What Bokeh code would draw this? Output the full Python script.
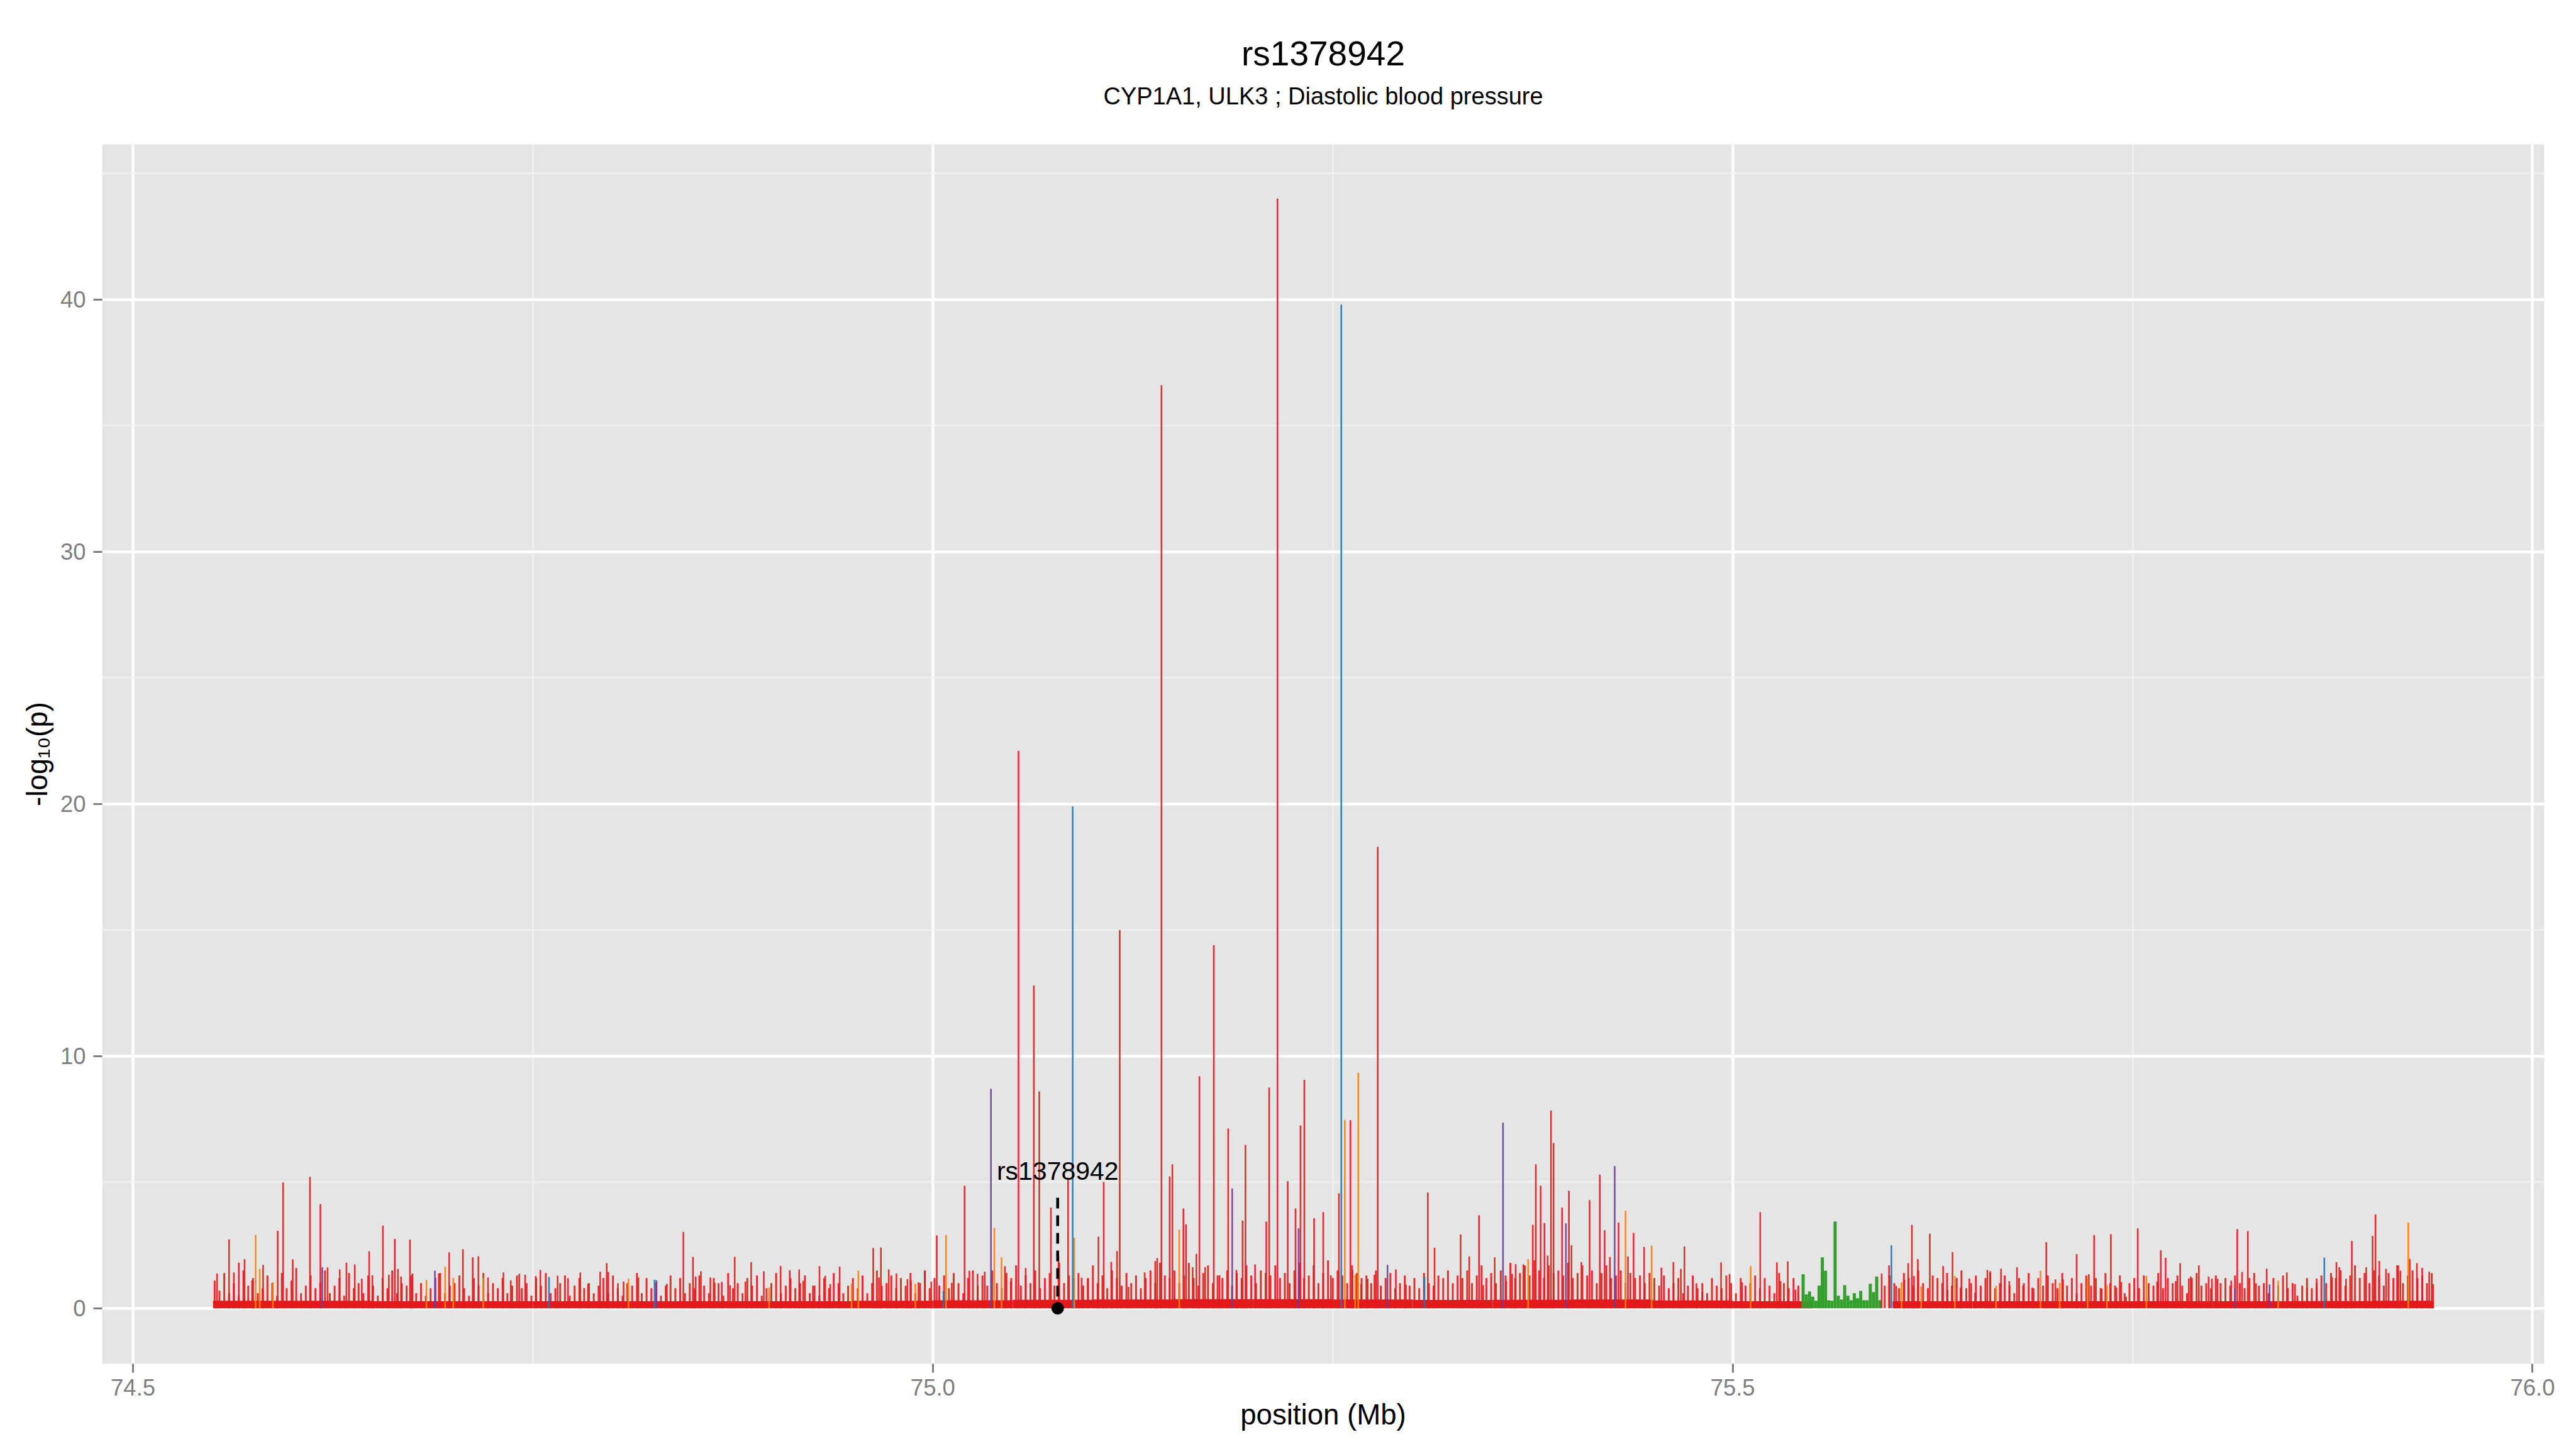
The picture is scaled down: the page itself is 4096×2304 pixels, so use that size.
from bokeh.plotting import figure
from bokeh.models import Range1d, Title, FixedTicker, Label
from bokeh.embed import file_html
from bokeh.resources import INLINE

# ---------------- text ----------------
TITLE = "rs1378942"
SUBTITLE = "CYP1A1, ULK3 ; Diastolic blood pressure"
X_LABEL = "position (Mb)"
Y_LABEL = "-log\u2081\u2080(p)"

x_ticks = [74.5, 75.0, 75.5, 76.0]
x_tick_labels = ["74.5", "75.0", "75.5", "76.0"]
x_minor = [74.75, 75.25, 75.75]
y_ticks = [0, 10, 20, 30, 40]
y_tick_labels = ["0", "10", "20", "30", "40"]
y_minor = [5, 15, 25, 35, 45]

# ---------------- lead SNP ----------------
lead_snp = "rs1378942"
lead_pos = 75.0780
lead_line_top = 4.38
lead_label_y = 5.45

# ---------------- data ----------------
data_start = 74.550
data_end = 75.938

# dense background association signal (-log10 p), one value every 0.003 Mb from 74.551
grass_start = 74.551
grass_step = 0.003
grass_val = [
    1.1, 0.7, 1.4, 0.6, 1.0, 0.5, 1.5, 0.9, 1.2, 0.6, 0.8, 1.3, 1.0, 0.5, 1.4, 0.8, 1.1, 1.6, 0.6, 0.9,
    1.3, 0.8, 1.0, 1.5, 0.6, 0.9, 1.2, 0.5, 1.4, 0.8, 1.0, 0.6, 1.3, 0.9, 0.5, 1.2, 0.8, 1.5, 0.6, 1.0,
    0.9, 1.3, 0.6, 1.0, 0.5, 0.8, 1.2, 1.4, 0.6, 0.9, 1.0, 1.3, 0.8, 0.5, 1.2, 0.9, 1.4, 0.6, 1.0, 0.8,
    1.2, 0.6, 0.9, 1.3, 0.8, 1.0, 0.5, 1.2, 0.9, 1.4, 0.6, 0.8, 1.0, 1.3, 0.5, 0.9, 1.2, 0.8, 1.0, 0.6,
    0.9, 1.2, 0.6, 1.3, 0.8, 0.5, 1.0, 0.9, 1.4, 0.6, 1.2, 0.8, 1.0, 0.5, 0.9, 1.3, 0.8, 1.2, 0.6, 1.0,
    0.8, 1.3, 0.9, 0.6, 1.2, 1.0, 0.5, 1.4, 0.8, 1.0, 0.6, 1.2, 0.9, 1.3, 0.5, 0.8, 1.0, 1.4, 0.6, 0.9,
    1.2, 0.8, 1.0, 1.3, 0.6, 0.9, 0.5, 1.2, 0.8, 1.4, 1.0, 0.6, 0.9, 1.2, 0.8, 1.3, 0.6, 1.0, 1.5, 0.9,
    1.0, 1.3, 0.8, 1.2, 0.9, 1.4, 0.6, 1.0, 1.5, 0.8, 1.2, 0.9, 1.3, 0.8, 1.4, 1.0, 0.6, 1.2, 1.5, 0.9,
    1.3, 0.9, 1.5, 1.0, 0.8, 1.4, 1.2, 1.7, 0.9, 1.3, 1.0, 1.5, 0.8, 1.2, 1.4, 0.9, 1.8, 1.0, 1.3, 1.2,
    1.4, 0.9, 1.2, 1.7, 1.0, 1.3, 0.8, 1.5, 1.2, 0.9, 1.4, 1.0, 1.3, 0.8, 1.2, 1.5, 1.0, 1.8, 1.3, 1.2,
    1.5, 1.0, 1.3, 1.8, 1.2, 0.9, 1.4, 1.7, 1.0, 1.3, 1.2, 1.5, 0.9, 1.4, 1.2, 1.7, 1.3, 1.0, 1.5, 1.4,
    1.3, 1.7, 1.2, 1.4, 1.0, 1.5, 1.8, 1.2, 1.3, 1.7, 1.0, 1.4, 1.9, 1.2, 1.5, 1.3, 1.0, 1.7, 1.4, 1.2,
    1.3, 1.0, 1.5, 0.9, 1.2, 1.4, 0.8, 1.0, 1.3, 0.9, 1.2, 0.8, 1.4, 1.0, 0.9, 1.3, 1.2, 1.5, 1.0, 1.3,
    1.2, 1.5, 1.0, 1.3, 1.7, 1.2, 1.4, 1.0, 1.5, 1.3, 1.8, 1.2, 1.4, 1.7, 1.3, 1.9, 1.5, 1.2, 1.7, 1.4,
    1.5, 1.3, 1.8, 1.2, 1.4, 1.7, 1.3, 1.5, 1.0, 1.4, 1.7, 1.2, 1.3, 1.5, 1.0, 1.4, 1.2, 1.3, 1.0, 1.4,
    1.2, 0.9, 1.3, 0.8, 1.0, 1.2, 0.6, 0.9, 1.3, 0.8, 1.0, 0.6, 1.2, 0.9, 0.8, 1.3, 1.0, 0.6, 1.2, 0.9,
    1.0, 1.3, 0.8, 1.2, 0.9, 0.6, 1.4, 1.0, 0.8, 1.2, 0.9, 0.0, 0.0, 0.0, 0.0, 0.0, 0.0, 0.0, 0.0, 0.0,
    0.0, 0.0, 0.0, 0.0, 0.0, 0.0, 0.0, 0.0, 0.9, 1.3, 1.0, 0.8, 1.4, 1.2, 0.9, 1.5, 1.0, 0.8, 1.3, 1.2,
    1.0, 1.4, 0.9, 1.2, 1.5, 0.8, 1.0, 1.3, 0.9, 1.2, 1.4, 0.8, 1.0, 1.3, 0.9, 0.6, 1.2, 1.0, 1.4, 0.8,
    1.2, 0.9, 1.3, 1.0, 0.8, 1.4, 0.9, 1.2, 0.6, 1.0, 1.3, 0.9, 1.2, 0.8, 1.4, 1.0, 0.9, 1.3, 0.6, 1.0,
    1.2, 0.8, 1.3, 1.0, 0.9, 1.4, 0.8, 1.2, 1.0, 1.3, 0.9, 0.6, 1.2, 1.4, 0.9, 1.0, 0.8, 1.3, 1.0, 1.2,
    0.9, 1.3, 1.0, 0.8, 1.2, 1.4, 0.9, 1.0, 0.6, 1.2, 0.9, 1.3, 0.8, 1.0, 0.5, 0.9, 1.2, 0.8, 1.0, 1.3,
    1.0, 1.4, 1.2, 1.5, 0.9, 1.3, 1.7, 1.2, 1.4, 1.0, 1.5, 1.3, 0.9, 1.4, 1.2, 1.7, 1.0, 1.3, 1.5, 1.2,
    1.3, 1.0, 1.4,
]

# solid low-level band, one value per 0.05 Mb bin from 74.55
floor_start = 74.55
floor_step = 0.05
floor_val = [0.30, 0.30, 0.28, 0.28, 0.28, 0.28, 0.28, 0.28, 0.30, 0.32,
             0.34, 0.35, 0.36, 0.36, 0.35, 0.33, 0.34, 0.35, 0.31, 0.28,
             0.00, 0.28, 0.28, 0.28, 0.28, 0.28, 0.29, 0.30]

# green block (different LD group), one value every 0.002 Mb from 75.544
green_start = 75.544
green_step = 0.002
green_val = [1.35, 0.55, 0.67, 0.46, 0.30, 0.90, 2.02, 1.49, 0.32, 0.30,
             3.44, 0.50, 0.35, 0.92, 0.50, 0.32, 0.60, 0.40, 0.69, 0.32,
             0.32, 0.97, 0.64, 1.26, 0.32]

# individual SNP peaks
spike_pos = [
    74.5525, 74.5600, 74.5630, 74.5661, 74.5697, 74.5744, 74.5766, 74.5792, 74.5813, 74.5874,
    74.5904, 74.5938, 74.5998, 74.6106, 74.6171, 74.6183, 74.6216, 74.6292, 74.6334, 74.6386,
    74.6430, 74.6476, 74.6496, 74.6562, 74.6599, 74.6636, 74.6656, 74.6675, 74.6731, 74.6747,
    74.6834, 74.6887, 74.6911, 74.6951, 74.6976, 74.7002, 74.7062, 74.7123, 74.7159, 74.7189,
    74.7219, 74.7315, 74.7361, 74.7414, 74.7451, 74.7517, 74.7546, 74.7600, 74.7654, 74.7719, 74.7796,
    74.7844, 74.7920, 74.7961, 74.7971, 74.8031, 74.8066, 74.8097, 74.8159, 74.8260, 74.8272,
    74.8337, 74.8440, 74.8500, 74.8517, 74.8550, 74.8609, 74.8636, 74.8680, 74.8732, 74.8761,
    74.8828, 74.8864, 74.8943, 74.8976, 74.9048, 74.9105, 74.9164, 74.9189, 74.9250, 74.9291,
    74.9327, 74.9358, 74.9417, 74.9492, 74.9534, 74.9627, 74.9663, 74.9675, 74.9724, 74.9772,
    74.9841, 74.9863, 74.9890, 74.9910, 74.9950, 74.9990, 75.0024, 75.0066, 75.0082, 75.0118,
    75.0198, 75.0228, 75.0279, 75.0324, 75.0363, 75.0384, 75.0429, 75.0450, 75.0487, 75.0535,
    75.0580, 75.0631, 75.0665, 75.0738, 75.0785, 75.0845, 75.0874, 75.0884, 75.0930, 75.0968,
    75.1035, 75.1068, 75.1115, 75.1151, 75.1168, 75.1223, 75.1324, 75.1390, 75.1402, 75.1429,
    75.1480, 75.1497, 75.1540, 75.1566, 75.1582, 75.1624, 75.1647, 75.1666, 75.1702, 75.1756,
    75.1792, 75.1846, 75.1871, 75.1897, 75.1936, 75.1954, 75.2014, 75.2084, 75.2102, 75.2154,
    75.2218, 75.2267, 75.2286, 75.2298, 75.2322, 75.2383, 75.2440, 75.2488,
    75.2538, 75.2553, 75.2575, 75.2610, 75.2623, 75.2640, 75.2659, 75.2677, 75.2718, 75.2760,
    75.2781, 75.2842, 75.2894, 75.2957, 75.3073, 75.3094, 75.3136, 75.3299, 75.3353, 75.3414,
    75.3440, 75.3512, 75.3564, 75.3584, 75.3621, 75.3643, 75.3691, 75.3721, 75.3750, 75.3769,
    75.3799, 75.3823, 75.3843, 75.3864, 75.3880, 75.3933, 75.3957, 75.3976, 75.3992, 75.4054,
    75.4105, 75.4169, 75.4199, 75.4232, 75.4262, 75.4286, 75.4330, 75.4345, 75.4380, 75.4446,
    75.4493, 75.4554, 75.4629, 75.4676, 75.4698, 75.4773, 75.4810,
    75.4927, 75.4980, 75.5058, 75.5112, 75.5172, 75.5276, 75.5299, 75.5344, 75.5393,
    75.5931, 75.5977, 75.5992, 75.6022, 75.6055, 75.6073, 75.6097, 75.6120, 75.6133, 75.6157, 75.6178,
    75.6232, 75.6315, 75.6343, 75.6374, 75.6389, 75.6424, 75.6479, 75.6515, 75.6592, 75.6610,
    75.6646, 75.6677, 75.6729, 75.6777, 75.6815, 75.6872, 75.6924, 75.6960, 75.7017, 75.7044,
    75.7065, 75.7150, 75.7218,
    75.7226, 75.7259, 75.7307, 75.7339, 75.7364, 75.7399, 75.7429, 75.7459, 75.7532, 75.7586,
    75.7653, 75.7676, 75.7706, 75.7769, 75.7797, 75.7851, 75.7863, 75.7914, 75.7975, 75.7996,
    75.8031, 75.8116, 75.8140, 75.8154, 75.8184, 75.8220, 75.8271, 75.8338, 75.8356, 75.8410,
    75.8464, 75.8515, 75.8590, 75.8650, 75.8698, 75.8747, 75.8774, 75.8792, 75.8834, 75.8870,
    75.8960, 75.9000, 75.9018, 75.9042, 75.9084, 75.9153, 75.9174, 75.9223, 75.9232, 75.9277,
    75.9310, 75.9354, 75.9379,
]
spike_val = [
    1.38, 2.73, 1.42, 1.81, 1.95, 1.11, 2.91, 1.56, 1.72, 1.03,
    3.07, 4.99, 1.94, 5.21, 4.13, 1.63, 1.62, 1.54, 1.81, 1.74,
    1.17, 2.26, 1.31, 3.28, 1.33, 2.75, 1.56, 1.26, 2.72, 1.38,
    1.13, 1.49, 1.38, 1.65, 2.22, 1.21, 2.34, 2.02, 2.06, 1.21,
    1.22, 1.42, 1.11, 1.37, 1.33, 1.28, 1.52, 1.24, 1.29, 1.19, 1.42,
    0.97, 1.45, 1.79, 1.44, 0.99, 1.06, 1.17, 1.22, 1.13, 1.11,
    0.97, 3.03, 2.04, 1.26, 1.47, 1.22, 1.01, 1.05, 0.92, 2.04,
    1.06, 1.83, 1.47, 0.82, 1.68, 1.51, 1.54, 1.09, 0.90, 1.67,
    1.29, 0.96, 1.65, 0.99, 1.49, 2.39, 1.22, 2.41, 1.54, 1.38,
    1.16, 1.10, 0.97, 1.03, 1.49, 1.06, 2.89, 0.69, 2.91, 1.01,
    4.86, 1.49, 1.37, 1.45, 8.70, 3.19, 2.02, 1.67, 1.06, 22.1,
    1.60, 12.8, 8.60, 3.99, 2.09, 5.18, 19.9, 2.80, 1.21, 1.17,
    2.84, 5.01, 1.84, 2.27, 15.0, 0.85, 1.42, 1.87, 1.99, 36.6,
    5.23, 5.71, 3.12, 3.96, 3.33, 1.63, 2.16, 9.20, 1.63, 14.4,
    1.31, 7.13, 4.75, 1.52, 3.48, 6.48, 1.74, 3.44, 8.75, 44.0,
    5.04, 3.96, 3.17, 7.25, 9.06, 3.57, 3.81, 1.31,
    4.56, 39.8, 7.47, 7.46, 1.52, 1.33, 9.34, 0.96, 1.17, 1.33,
    18.3, 1.72, 1.54, 0.94, 1.24, 4.59, 2.40, 2.93, 2.06, 3.69,
    0.92, 2.02, 7.36, 1.09, 1.37, 1.75, 1.74, 1.95, 3.31, 5.71,
    4.86, 3.38, 2.09, 7.84, 6.55, 3.99, 3.37, 4.66, 2.50, 1.83,
    4.29, 5.30, 3.10, 2.04, 5.64, 3.40, 3.87, 2.06, 2.99, 2.43,
    2.48, 1.61, 1.83, 1.56, 2.45, 0.99, 0.64,
    1.82, 1.36, 1.03, 1.68, 3.81, 1.82, 1.08, 1.86, 0.74,
    1.38, 1.70, 2.50, 0.89, 1.03, 1.13, 1.79, 3.31, 1.28, 1.95, 0.87,
    2.96, 1.68, 0.74, 2.23, 1.28, 0.82, 1.18, 0.62, 1.52, 1.47,
    0.90, 1.57, 1.08, 1.63, 0.90, 0.82, 1.49, 2.62, 1.15, 1.01,
    1.15, 2.15, 1.18,
    1.35, 2.91, 0.78, 0.92, 2.94, 0.82, 1.04, 0.46, 3.17, 1.28,
    1.06, 2.30, 2.00, 1.08, 1.79, 1.18, 1.26, 1.70, 1.26, 1.17,
    1.17, 1.10, 0.79, 3.14, 1.44, 3.06, 0.99, 1.57, 0.94, 1.10,
    1.42, 0.96, 0.82, 1.18, 2.01, 1.23, 1.83, 1.63, 1.17, 2.67,
    1.63, 2.87, 3.72, 1.88, 1.56, 1.70, 1.49, 3.40, 1.96, 1.79,
    1.60, 1.45, 0.96,
]
# LD group of each peak: r = red, o = orange, b = blue, p = purple
spike_grp = (
    "rrrrrrooro" "rrrrrprrrr" "rrrrrrrrrr" "oprororrro" "rrrrrrrbrrr"
    "rrrrrrorbp" "rrrrrrrrrr" "rrrorrrrrr" "rrroorrrrr" "rrorrrrbor"
    "rrrrpoorrr" "rrrrrrborr" "rrrrrrrrrr" "rrorrrrrrr" "rrprrrrrrr" "rrprrrrr"
    "rborroorrr" "rprrbrrrrr" "rrprrrrorr" "rrrrrrprrr" "rrrrprorrr" "orrrrrr"
    "rrrorrrrr" "rrbrorrrrro" "rrrrorrrrr" "orrrrrorro" "rro"
    "rrrorrrrro" "rrrrrrrrrr" "rrprrrrrpo" "rrrrbrrrrr" "rrrrrrrorr" "rrr"
)

assert len(spike_pos) == len(spike_val) == len(spike_grp)

COLORS = {"r": "#E31A1C", "o": "#FF7F00", "b": "#1F78B4", "p": "#6A3D9A", "g": "#33A02C"}
FONT = "Liberation Sans"

# ---------------- figure ----------------
p = figure(width=4080, height=2288, output_backend="svg", toolbar_location=None,
           x_range=Range1d(74.4807, 76.0073), y_range=Range1d(-2.2, 46.15),
           min_border_left=162, min_border_right=35, min_border_top=229, min_border_bottom=120)

p.background_fill_color = "#E5E5E5"
p.border_fill_color = "white"
p.outline_line_color = None

# title panels stack outward from the plot: spacer, subtitle, title
p.add_layout(Title(text=" ", text_font_size="1px", standoff=53), "above")
p.add_layout(Title(text=SUBTITLE, align="center", text_font=FONT, text_font_size="38px",
                   text_font_style="normal", text_color="black", standoff=0), "above")
p.add_layout(Title(text=TITLE, align="center", text_font=FONT, text_font_size="55px",
                   text_font_style="normal", text_color="black", standoff=28), "above")

# axes
p.xaxis.ticker = FixedTicker(ticks=x_ticks, minor_ticks=x_minor)
p.yaxis.ticker = FixedTicker(ticks=y_ticks, minor_ticks=y_minor)
p.xaxis.major_label_overrides = {t: l for t, l in zip(x_ticks, x_tick_labels)}
p.yaxis.major_label_overrides = {t: l for t, l in zip(y_ticks, y_tick_labels)}
p.xaxis.axis_label = X_LABEL
p.yaxis.axis_label = Y_LABEL
for ax in (p.xaxis, p.yaxis):
    ax.axis_line_color = None
    ax.major_tick_line_color = "#7F7F7F"
    ax.major_tick_line_width = 3
    ax.major_tick_out = 14
    ax.major_tick_in = 0
    ax.minor_tick_line_color = None
    ax.major_label_text_font = FONT
    ax.major_label_text_font_size = "36.5px"
    ax.major_label_text_color = "#7F7F7F"
    ax.axis_label_text_font = FONT
    ax.axis_label_text_font_size = "45.6px"
    ax.axis_label_text_font_style = "normal"
    ax.axis_label_text_color = "black"
p.xaxis.major_label_standoff = 10
p.yaxis.major_label_standoff = 12
p.xaxis.axis_label_standoff = 2
p.yaxis.axis_label_standoff = 8

# grid
for g in (p.xgrid, p.ygrid):
    g.grid_line_color = "white"
    g.grid_line_width = 4.5
    g.minor_grid_line_color = "#F2F2F2"
    g.minor_grid_line_width = 2
p.xgrid.ticker = FixedTicker(ticks=x_ticks, minor_ticks=x_minor)
p.ygrid.ticker = FixedTicker(ticks=y_ticks, minor_ticks=y_minor)

# ---------------- marks ----------------
red = COLORS["r"]

# low solid band
f_left = [floor_start + i * floor_step for i in range(len(floor_val))]
f_right = [min(l + floor_step, data_end) for l in f_left]
p.quad(left=f_left, right=f_right, bottom=0, top=floor_val, fill_color=red, line_color=None)

# dense background signal
g_x = [grass_start + i * grass_step for i in range(len(grass_val))]
p.segment(x0=g_x, y0=0, x1=g_x, y1=grass_val, line_color=red, line_width=3.0, line_alpha=0.9)

# green block
gr_x = [green_start + i * green_step for i in range(len(green_val))]
p.segment(x0=gr_x, y0=0, x1=gr_x, y1=green_val, line_color=COLORS["g"], line_width=5)

# peaks: red first, coloured ones on top
order = sorted(range(len(spike_pos)), key=lambda i: 0 if spike_grp[i] == "r" else 1)
sx = [spike_pos[i] for i in order]
sy = [spike_val[i] for i in order]
sc = [COLORS[spike_grp[i]] for i in order]
p.segment(x0=sx, y0=0, x1=sx, y1=sy, line_color=sc, line_width=2.6, line_alpha=0.9)

# lead SNP marker
p.segment(x0=[lead_pos], y0=[lead_line_top], x1=[lead_pos], y1=[0], line_color="black",
          line_width=4.5, line_dash="17 11")
p.scatter(x=[lead_pos], y=[0], size=19, fill_color="black", line_color="black")
p.add_layout(Label(x=lead_pos, y=lead_label_y, text=lead_snp, text_align="center",
                   text_baseline="alphabetic", text_font=FONT, text_font_size="41px",
                   text_color="black"))

open("out.html", "w").write(file_html(p, INLINE))
